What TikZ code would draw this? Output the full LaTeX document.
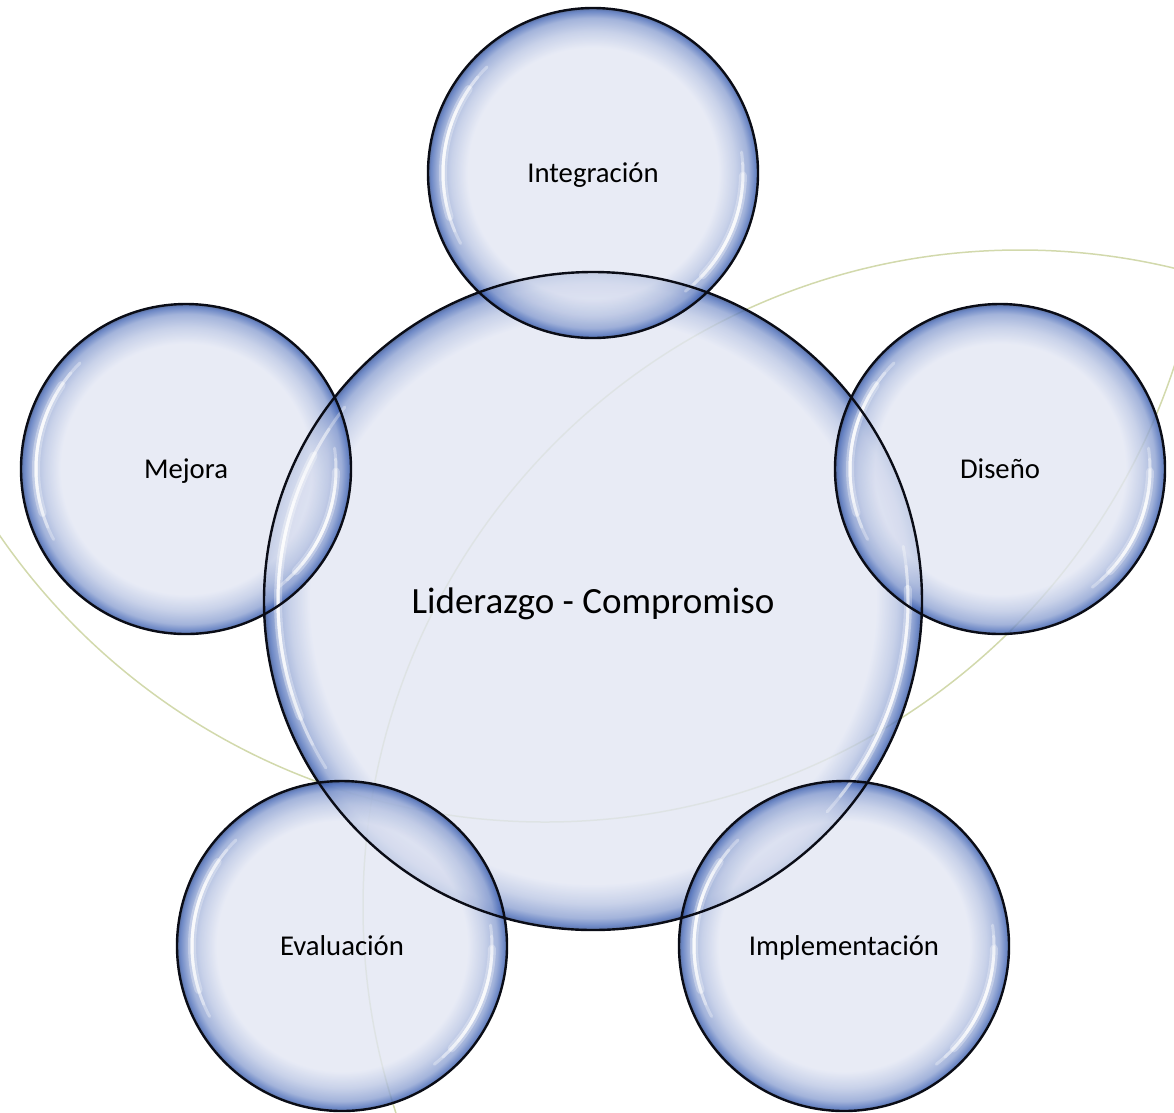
\documentclass[tikz,border=0pt]{standalone}
\usepackage{fontspec}
\setmainfont{Carlito}
\definecolor{bin}{RGB}{226,230,243}
\definecolor{brim}{RGB}{70,104,182}
\definecolor{arccol}{RGB}{210,217,172}
\definecolor{edgecol}{RGB}{10,12,22}
% glassy bubble shadings (radius of the circle = 25bp)
\pgfdeclareradialshading{bubblesmall}{\pgfpointorigin}{color(0bp)=(bin); color(19bp)=(bin); color(21.5bp)=(bin!75!brim); color(23.5bp)=(bin!45!brim); color(24.6bp)=(brim); color(25bp)=(brim!70!black); color(50bp)=(brim!70!black)}
\pgfdeclareradialshading{bubblebig}{\pgfpointorigin}{color(0bp)=(bin); color(21.5bp)=(bin); color(23bp)=(bin!75!brim); color(24.1bp)=(bin!45!brim); color(24.75bp)=(brim); color(25bp)=(brim!70!black); color(50bp)=(brim!70!black)}
\newcommand\leafsize{\fontsize{28.7}{34}\selectfont}
\newcommand\coresize{\fontsize{37}{44}\selectfont}
% soft white glint along the inside of a bubble: node, radius, start angle, end angle
% (stacked translucent arcs, shorter ones on top, so the ends fade out)
\newcommand\glint[4]{%
  \draw[glintwide] (#1.center) ++({#3+((#4)-(#3))*0.15}:#2)
    arc[start angle={#3+((#4)-(#3))*0.15}, end angle={#4-((#4)-(#3))*0.15}, radius=#2];
  \foreach \f in {0,0.07,...,0.36}{
    \draw[glintcore] (#1.center) ++({#3+((#4)-(#3))*\f}:#2)
      arc[start angle={#3+((#4)-(#3))*\f}, end angle={#4-((#4)-(#3))*\f}, radius=#2];
  }
}
\tikzset{
  bubble/.style={circle, inner sep=0pt, text depth=0pt, shade, fill opacity=0.8, text opacity=1, text=black},
  leaf/.style={bubble, shading=bubblesmall, minimum size=330pt, font=\leafsize},
  core/.style={bubble, shading=bubblebig, minimum size=658pt, font=\coresize},
  rimline/.style={draw=edgecol, line width=2.4pt},
  arcline/.style={draw=arccol, line width=1.5pt},
  glintwide/.style={draw=white, line cap=round, line width=8pt, draw opacity=0.3},
  glintcore/.style={draw=white, line cap=round, line width=3pt, draw opacity=0.32},
}
\begin{document}
\begin{tikzpicture}[x=1pt,y=1pt]
\useasboundingbox (0,0) rectangle (1174,-1112);
% faint background arcs
\begin{scope}
  \clip (0,0) rectangle (1174,-1112);
  \draw[arcline] (545,-160) circle[radius=662];
  \draw[arcline] (1020,-907) circle[radius=657];
\end{scope}
% bubbles
\node[core] (core) at (593,-601) {Liderazgo - Compromiso};
\node[leaf] (int) at (593,-173) {Integración};
\node[leaf] (dis) at (1000,-469) {Diseño};
\node[leaf] (mej) at (186,-469) {Mejora};
\node[leaf] (eva) at (342,-946) {Evaluación};
\node[leaf] (imp) at (844,-946) {Implementación};
% glints
\glint{core}{315}{142}{212}
\glint{core}{315}{10}{-42}
\foreach \n in {int,dis,mej,eva,imp}{
  \glint{\n}{150}{135}{208}
  \glint{\n}{150}{8}{-52}
}
% outlines
\draw[rimline] (core.center) circle[radius=329];
\foreach \n in {int,dis,mej,eva,imp}{
  \draw[rimline] (\n.center) circle[radius=165];
}
\end{tikzpicture}
\end{document}
